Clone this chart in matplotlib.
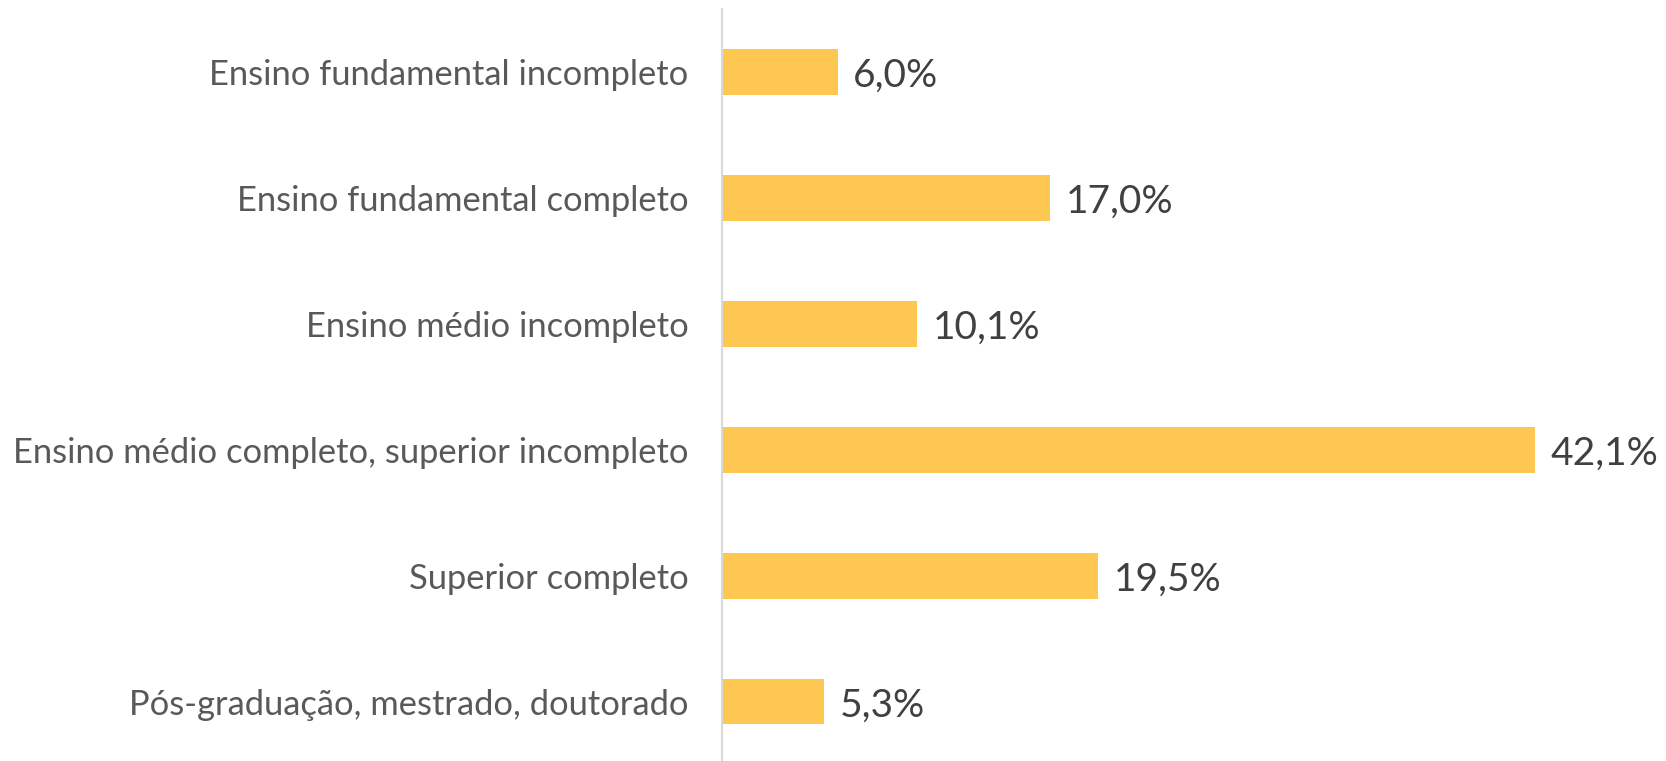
import matplotlib.pyplot as plt

plt.rcParams['font.family'] = ['Lato', 'DejaVu Sans']

categorias = [
    "Ensino fundamental incompleto",
    "Ensino fundamental completo",
    "Ensino médio incompleto",
    "Ensino médio completo, superior incompleto",
    "Superior completo",
    "Pós-graduação, mestrado, doutorado",
]
percentuais = [6.0, 17.0, 10.1, 42.1, 19.5, 5.3]
rotulos = ["6,0%", "17,0%", "10,1%", "42,1%", "19,5%", "5,3%"]

fig = plt.figure(figsize=(16.66, 7.61), dpi=100)
ax = fig.add_axes([0.4334, 0.0, 0.5666, 0.988])

pos = list(range(len(categorias)))
bars = ax.barh(pos, percentuais, height=0.36, color='#FEC752')

for b, txt in zip(bars, rotulos):
    ax.text(b.get_width() + 0.8, b.get_y() + b.get_height() / 2, txt,
            va='center_baseline', ha='left', fontsize=28, color='#404040')

ax.set_yticks(pos)
ax.set_yticklabels(categorias, fontsize=24.8, color='#595959')
ax.tick_params(axis='y', length=0, pad=24)
ax.set_xticks([])
ax.set_xlim(0, 48.9)
ax.set_ylim(5.47, -0.5)

for s in ['top', 'right', 'bottom']:
    ax.spines[s].set_visible(False)
ax.spines['left'].set_color('#D9D9D9')
ax.spines['left'].set_linewidth(1.5)

fig.savefig('out.png', dpi=100)
